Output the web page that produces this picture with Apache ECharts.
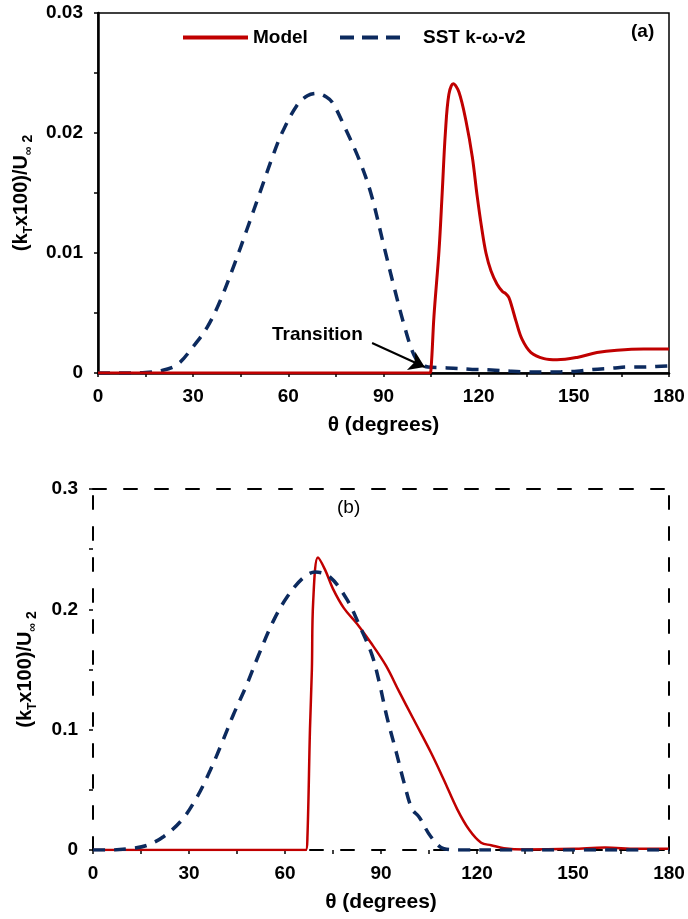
<!DOCTYPE html>
<html>
<head>
<meta charset="utf-8">
<script src="https://cdn.jsdelivr.net/npm/echarts@6/dist/echarts.min.js"></script>
<style>
html,body{margin:0;padding:0;background:#fff;}
#c{width:688px;height:919px;}
</style>
</head>
<body>
<div id="c"></div>
<script>
// ---------- DATA ----------
var xTickLabels = [0, 30, 60, 90, 120, 150, 180];
var yTickLabelsA = [0, 0.01, 0.02, 0.03];
var yTickLabelsB = [0, 0.1, 0.2, 0.3];
var seriesNames = ['Model', 'SST k-\u03c9-v2'];

// (a) SST k-w-v2
var sstA_x = [0, 10, 15, 20, 25, 30, 34.4, 38.5, 43.2, 47, 51, 55, 58, 62.7, 66, 69, 72, 74, 77.4, 82.3, 86, 90.2, 93.3, 96.5, 99.6, 102, 104, 108, 112, 118, 124, 130, 134, 140, 146, 151, 156, 162, 167, 172, 176, 180];
var sstA_y = [0, 0, 0.00005, 0.0002, 0.0007, 0.0022, 0.0038, 0.006, 0.0092, 0.012, 0.015, 0.018, 0.02, 0.0223, 0.0231, 0.0233, 0.023, 0.0225, 0.0207, 0.0178, 0.015, 0.0105, 0.0072, 0.004, 0.0015, 0.0007, 0.0005, 0.00045, 0.0004, 0.0003, 0.00025, 0.00015, 0.0001, 0.00008, 0.0001, 0.00015, 0.0003, 0.0004, 0.0005, 0.0005, 0.00055, 0.0006];
// (a) Model
var modA_x = [0, 104.5, 105, 105.9, 107.5, 108.5, 109.5, 110.6, 112, 113.8, 116, 118, 119.5, 121, 122.3, 123.9, 125.8, 127.5, 128.6, 129.5, 130.5, 131.8, 133.7, 136.5, 140.6, 144.7, 151, 157.3, 163.6, 172, 180];
var modA_y = [0, 0, 0.0004, 0.0047, 0.0102, 0.015, 0.02, 0.0232, 0.0241, 0.0234, 0.021, 0.018, 0.0148, 0.012, 0.01, 0.0085, 0.0074, 0.0068, 0.0066, 0.0063, 0.0055, 0.0043, 0.0028, 0.0017, 0.0012, 0.0011, 0.0013, 0.0017, 0.0019, 0.002, 0.002];
// (b) SST k-w-v2
var sstB_x = [0, 5, 12.5, 17, 22, 27.8, 32.5, 36.6, 40.3, 43.8, 48, 51.6, 56.3, 60.6, 65.6, 69.4, 74, 79.4, 83.7, 87.2, 89.4, 91.9, 94.7, 97.2, 99.7, 101.9, 105.6, 109.7, 115, 130, 150, 180];
var sstB_y = [0, 0, 0.0015, 0.004, 0.011, 0.025, 0.044, 0.066, 0.089, 0.112, 0.137, 0.161, 0.19, 0.21, 0.226, 0.231, 0.227, 0.208, 0.184, 0.162, 0.14, 0.11, 0.082, 0.056, 0.034, 0.0275, 0.011, 0.001, 0, 0, 0, 0];
// (b) Model
var modB_x = [0, 66.5, 67, 67.8, 68.4, 68.8, 70.3, 72.5, 75, 78.4, 82.5, 86.9, 91.6, 95.6, 100.3, 105.6, 109.7, 113.8, 117.5, 121.3, 124.4, 128.4, 135, 150, 160, 170, 180];
var modB_y = [0, 0, 0.01, 0.1, 0.15, 0.206, 0.243, 0.233, 0.217, 0.201, 0.188, 0.172, 0.153, 0.132, 0.108, 0.081, 0.058, 0.034, 0.017, 0.006, 0.004, 0.0015, 0.0005, 0.001, 0.002, 0.001, 0.001];

// transition annotation (data coords: tail, head)
var transitionTail = [86.4, 0.0025];
var transitionHead = [103, 0.0005];

function zip(xs, ys) { return xs.map(function (x, i) { return [x, ys[i]]; }); }

// ---------- STYLE ----------
var FONT = '"Liberation Sans", Arial, sans-serif';
var RED = '#c00000';
var BLUE = '#0c2a5e';
var BLACK = '#000';

function fmtX(v) { return xTickLabels.indexOf(Math.round(v)) >= 0 ? String(Math.round(v)) : ''; }
function makeFmtY(list) {
  return function (v) {
    for (var i = 0; i < list.length; i++) { if (Math.abs(list[i] - v) < 1e-9) return String(list[i]); }
    return '';
  };
}

var yName = '{a|(k}{s|T}{a|x100)/U}{s|\u221e}{s2| 2}';
var yNameStyle = {
  rich: {
    a: { fontFamily: FONT, fontWeight: 'bold', fontSize: 20, color: BLACK, lineHeight: 28, verticalAlign: 'middle' },
    s: { fontFamily: FONT, fontWeight: 'bold', fontSize: 12, color: BLACK, lineHeight: 28, verticalAlign: 'bottom' },
    s2: { fontFamily: FONT, fontWeight: 'bold', fontSize: 14, color: BLACK, lineHeight: 28, verticalAlign: 'bottom' }
  }
};
var labelStyle = { fontFamily: FONT, fontWeight: 'bold', fontSize: 19, color: BLACK };
var xNameStyle = { fontFamily: FONT, fontWeight: 'bold', fontSize: 21, color: BLACK };
var legendText = { fontFamily: FONT, fontWeight: 'bold', fontSize: 19, color: BLACK };

var dashAxis = { color: BLACK, width: 2, type: [13, 18] };

var chart = echarts.init(document.getElementById('c'), null, { renderer: 'canvas' });

var smoothCfg = { smooth: 0.35 };

var option = {
  animation: false,
  backgroundColor: '#fff',
  grid: [
    { left: 98, top: 13, width: 571, height: 360, show: true, borderColor: BLACK, borderWidth: 1.5, backgroundColor: 'transparent' },
    { left: 93, top: 489, width: 576, height: 361 }
  ],
  legend: [
    { data: [{ name: seriesNames[0], icon: 'rect' }], left: 183, top: 28, padding: 0, itemWidth: 65, itemHeight: 4, textStyle: legendText },
    { data: [{ name: seriesNames[1], icon: 'path://M0,0h14v4h-14z M22,0h16v4h-16z M46,0h14v4h-14z' }],
      left: 340, top: 28, padding: 0, itemWidth: 60, itemHeight: 4,
      textStyle: Object.assign({ padding: [0, 0, 0, 18] }, legendText) }
  ],
  xAxis: [
    { type: 'value', gridIndex: 0, min: 0, max: 180, interval: 15,
      axisLine: { show: true, onZero: false, lineStyle: { color: BLACK, width: 2.5 } },
      axisTick: { show: true, length: 4, lineStyle: { color: BLACK, width: 1.5 } },
      axisLabel: Object.assign({ formatter: fmtX, margin: 14 }, labelStyle),
      splitLine: { show: false },
      name: '\u03b8 (degrees)', nameLocation: 'middle', nameGap: 42, nameTextStyle: xNameStyle },
    { type: 'value', gridIndex: 1, min: 0, max: 180, interval: 15,
      axisLine: { show: true, onZero: false, lineStyle: dashAxis },
      axisTick: { show: true, length: 4, lineStyle: { color: BLACK, width: 1.5 } },
      axisLabel: Object.assign({ formatter: fmtX, margin: 14 }, labelStyle),
      splitLine: { show: false },
      name: '\u03b8 (degrees)', nameLocation: 'middle', nameGap: 42, nameTextStyle: xNameStyle },
    { type: 'value', gridIndex: 1, position: 'top', min: 0, max: 180,
      axisLine: { show: true, onZero: false, lineStyle: dashAxis },
      axisTick: { show: false }, axisLabel: { show: false }, splitLine: { show: false } }
  ],
  yAxis: [
    { type: 'value', gridIndex: 0, min: 0, max: 0.03, interval: 0.005,
      axisLine: { show: true, onZero: false, lineStyle: { color: BLACK, width: 2.5 } },
      axisTick: { show: true, length: 4, lineStyle: { color: BLACK, width: 1.5 } },
      axisLabel: Object.assign({ formatter: makeFmtY(yTickLabelsA), margin: 15 }, labelStyle),
      splitLine: { show: false },
      name: yName, nameLocation: 'middle', nameRotate: 90, nameGap: 58, nameTextStyle: yNameStyle },
    { type: 'value', gridIndex: 1, min: 0, max: 0.3, interval: 0.05,
      axisLine: { show: true, onZero: false, lineStyle: dashAxis },
      axisTick: { show: true, length: 4, lineStyle: { color: BLACK, width: 1.5 } },
      axisLabel: Object.assign({ formatter: makeFmtY(yTickLabelsB), margin: 15 }, labelStyle),
      splitLine: { show: false },
      name: yName, nameLocation: 'middle', nameRotate: 90, nameGap: 54, nameTextStyle: yNameStyle },
    { type: 'value', gridIndex: 1, position: 'right', min: 0, max: 0.3,
      axisLine: { show: true, onZero: false, lineStyle: dashAxis },
      axisTick: { show: false }, axisLabel: { show: false }, splitLine: { show: false } }
  ],
  series: [
    Object.assign({ name: seriesNames[1], type: 'line', xAxisIndex: 0, yAxisIndex: 0, data: zip(sstA_x, sstA_y),
      showSymbol: false, symbol: 'none', z: 3,
      lineStyle: { color: BLUE, width: 3.5, type: [12, 9] }, itemStyle: { color: BLUE } }, smoothCfg),
    Object.assign({ name: seriesNames[0], type: 'line', xAxisIndex: 0, yAxisIndex: 0, data: zip(modA_x, modA_y),
      showSymbol: false, symbol: 'none', z: 4,
      lineStyle: { color: RED, width: 3 }, itemStyle: { color: RED },
      markLine: {
        silent: true, symbol: ['none', 'arrow'], symbolSize: 15,
        lineStyle: { color: BLACK, width: 2, type: 'solid' },
        label: { show: false },
        data: [[{ coord: transitionTail }, { coord: transitionHead }]]
      } }, smoothCfg),
    Object.assign({ name: seriesNames[0], type: 'line', xAxisIndex: 1, yAxisIndex: 1, data: zip(modB_x, modB_y),
      showSymbol: false, symbol: 'none', z: 3,
      lineStyle: { color: RED, width: 2.5 }, itemStyle: { color: RED } }, smoothCfg),
    Object.assign({ name: seriesNames[1], type: 'line', xAxisIndex: 1, yAxisIndex: 1, data: zip(sstB_x, sstB_y),
      showSymbol: false, symbol: 'none', z: 4,
      lineStyle: { color: BLUE, width: 3.5, type: [12, 9] }, itemStyle: { color: BLUE } }, smoothCfg)
  ],
  graphic: [
    { type: 'text', left: 631, top: 22, style: { text: '(a)', font: 'bold 19px ' + FONT, fill: BLACK } },
    { type: 'text', left: 337, top: 498, style: { text: '(b)', font: '19px ' + FONT, fill: BLACK } },
    { type: 'text', left: 272, top: 325, style: { text: 'Transition', font: 'bold 19px ' + FONT, fill: BLACK } }
  ]
};
chart.setOption(option);
</script>
</body>
</html>
